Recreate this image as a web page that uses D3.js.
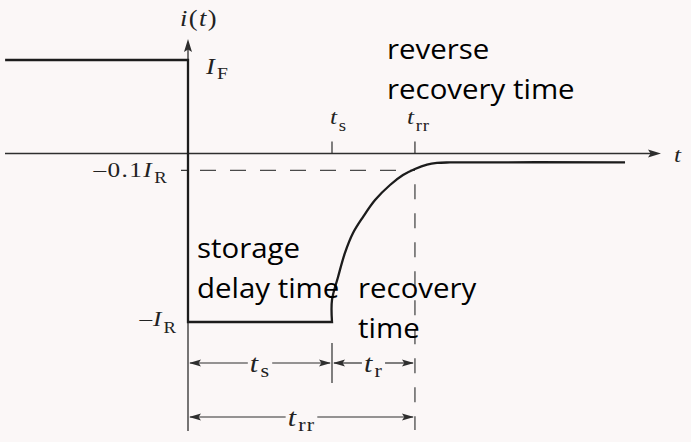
<!DOCTYPE html>
<html><head><meta charset="utf-8">
<script src="https://cdn.jsdelivr.net/npm/d3@7"></script>
<style>
html,body{margin:0;padding:0;background:#fbf7f7;}
svg{display:block;}
</style></head>
<body>
<svg id="c" width="691" height="442"></svg>
<script>
// ---- data (diagram units: time in t_s units, current in I_R units) ----
const I_F = 0.555;            // forward current level
const I_R = 1;                // reverse current magnitude
const tS = 1;                 // storage time end
const tRR = 1.576;            // reverse recovery time
const level01 = -0.1;         // -0.1 I_R level
const stepT = [-1.27, 0, 0, 1];
const stepI = [0.555, 0.555, -1, -1];
const recT = [1, 1.0, 1.042, 1.09, 1.146, 1.215, 1.299, 1.403, 1.493, 1.576, 1.66, 1.729, 1.819, 3.035];
const recI = [-1, -0.869, -0.733, -0.59, -0.472, -0.377, -0.276, -0.187, -0.128, -0.092, -0.066, -0.056, -0.053, -0.053];
const notes = [["reverse", "recovery time"], ["storage", "delay time"], ["recovery", "time"]];

const svg = d3.select("#c");
const x = d3.scaleLinear().domain([0, 1]).range([188, 332]);
const y = d3.scaleLinear().domain([-1, 0]).range([322, 153.5]);
const X0 = x(0), Y0 = y(0);
const ink = "#1c1c1c", axisCol = "#2e2e2e", dashCol = "#4a4a4a";
const serif = "'Liberation Serif','Times New Roman',serif";
const sans = "'Open Sans','Noto Sans',sans-serif";
const SX = 1.15; // horizontal stretch of the scanned labels

function arrowHead(g, tipX, tipY, dir, len, half, col) {
  let pts;
  if (dir === 'r') pts = [[tipX, tipY], [tipX - len, tipY - half], [tipX - len * 0.8, tipY], [tipX - len, tipY + half]];
  if (dir === 'l') pts = [[tipX, tipY], [tipX + len, tipY - half], [tipX + len * 0.8, tipY], [tipX + len, tipY + half]];
  if (dir === 'u') pts = [[tipX, tipY], [tipX - half, tipY + len], [tipX, tipY + len * 0.8], [tipX + half, tipY + len]];
  g.append("path").attr("d", "M" + pts.map(p => p.join(",")).join("L") + "Z").attr("fill", col);
}

// ---- axes ----
const ax = svg.append("g");
ax.append("line").attr("x1", 5).attr("x2", 652).attr("y1", Y0).attr("y2", Y0)
  .attr("stroke", axisCol).attr("stroke-width", 1.3);
arrowHead(ax, 661, Y0, 'r', 13, 4, axisCol);
ax.append("line").attr("x1", X0).attr("x2", X0).attr("y1", 48).attr("y2", 431)
  .attr("stroke", axisCol).attr("stroke-width", 1.3);
arrowHead(ax, X0, 39, 'u', 13, 4, axisCol);

[tS, tRR].forEach(t => {
  ax.append("line").attr("x1", x(t)).attr("x2", x(t)).attr("y1", Y0 - 12).attr("y2", Y0)
    .attr("stroke", axisCol).attr("stroke-width", 1.2);
});
ax.append("line").attr("x1", X0 - 7).attr("x2", X0).attr("y1", y(level01)).attr("y2", y(level01))
  .attr("stroke", axisCol).attr("stroke-width", 1.2);

ax.append("line").attr("x1", X0 + 12).attr("x2", x(tRR)).attr("y1", y(level01)).attr("y2", y(level01))
  .attr("stroke", dashCol).attr("stroke-width", 1.3).attr("stroke-dasharray", "16,14");
ax.append("line").attr("x1", x(tRR)).attr("x2", x(tRR)).attr("y1", y(level01) + 14).attr("y2", 430)
  .attr("stroke", dashCol).attr("stroke-width", 1.3).attr("stroke-dasharray", "15,14");

// ---- waveform ----
const stepPts = stepT.map((t, i) => [t, stepI[i]]);
const recPts = recT.map((t, i) => [t, recI[i]]);
const lin = d3.line().x(d => x(d[0])).y(d => y(d[1]));
const cr = d3.line().x(d => x(d[0])).y(d => y(d[1])).curve(d3.curveCatmullRom.alpha(0.5));
svg.append("path").attr("d", lin(stepPts) + cr(recPts).replace(/^M/, "L"))
  .attr("fill", "none").attr("stroke", ink).attr("stroke-width", 2.3).attr("stroke-linejoin", "miter");

// ---- math labels (stretched horizontally like the scan) ----
function mathLabel(xp, yp, main, sub, size, anchor, prefix, subDy, ls) {
  const g = svg.append("g").attr("transform", `translate(${xp},${yp}) scale(${SX},1)`);
  const t = g.append("text").attr("x", 0).attr("y", 0).attr("font-family", serif)
    .attr("font-size", size).attr("fill", "#222").attr("letter-spacing", ls == null ? 0.6 : ls)
    .attr("text-anchor", anchor || "start");
  if (prefix) t.append("tspan").text(prefix);
  t.append("tspan").attr("font-style", "italic").text(main);
  if (sub) t.append("tspan").attr("font-size", size * 0.74).attr("dy", subDy || size * 0.3).attr("dx", 1).text(sub);
  return g;
}
(function () {
  const g = svg.append("g").attr("transform", `translate(180,26) scale(${SX},1)`);
  const t = g.append("text").attr("font-family", serif).attr("font-size", 23).attr("fill", "#222")
    .attr("letter-spacing", 1.2);
  t.append("tspan").attr("font-style", "italic").text("i");
  t.append("tspan").text("(");
  t.append("tspan").attr("font-style", "italic").text("t");
  t.append("tspan").text(")");
})();
mathLabel(206, 74, "I", "F", 23, "start", null, 5, 1);
mathLabel(168, 177, "I", "R", 22, "end", "\u20130.1", 6, 1.2);
mathLabel(177, 326, "I", "R", 22, "end", "\u2013", 7, 0.8);
mathLabel(x(tS) - 2, 124, "t", "s", 22);
mathLabel(x(tRR) - 8, 124, "t", "rr", 22);
svg.append("g").attr("transform", `translate(674,162) scale(${SX},1)`).append("text")
  .attr("font-family", serif).attr("font-style", "italic")
  .attr("font-size", 22).attr("fill", "#222").text("t");

// ---- dimension arrows ----
function dim(x1, x2, yy, main, sub) {
  const cx = (x1 + x2) / 2;
  const lab = mathLabel(cx, yy + 9, main, sub, 26, "middle", null, 5, 1);
  const bb = lab.node().getBBox();
  const left = cx + bb.x * SX, right = cx + (bb.x + bb.width) * SX;
  const g = svg.append("g");
  g.append("line").attr("x1", x1 + 2).attr("x2", left - 2).attr("y1", yy).attr("y2", yy)
    .attr("stroke", axisCol).attr("stroke-width", 1.2);
  g.append("line").attr("x1", right + 2).attr("x2", x2 - 2).attr("y1", yy).attr("y2", yy)
    .attr("stroke", axisCol).attr("stroke-width", 1.2);
  arrowHead(g, x1 + 1, yy, 'l', 12, 3.5, axisCol);
  arrowHead(g, x2 - 1, yy, 'r', 12, 3.5, axisCol);
}
svg.append("line").attr("x1", x(tS)).attr("x2", x(tS)).attr("y1", 343).attr("y2", 383)
  .attr("stroke", axisCol).attr("stroke-width", 1.2);
dim(X0, x(tS), 363, "t", "s");
dim(x(tS), x(tRR), 363, "t", "r");
dim(X0, x(tRR), 417, "t", "rr");

// ---- annotations ----
const notePos = [[387, 59], [197, 258], [358, 298]];
notes.forEach((lines, i) => {
  lines.forEach((s, j) => {
    svg.append("g").attr("transform", `translate(${notePos[i][0]},${notePos[i][1] + j * 40}) scale(1.09,1)`)
      .append("text").attr("font-family", sans).attr("font-size", 27).attr("fill", "#000").text(s);
  });
});
</script>
</body></html>
